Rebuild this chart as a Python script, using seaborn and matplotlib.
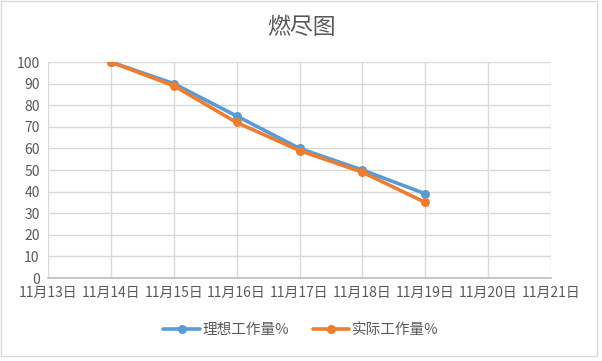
import pandas as pd
import seaborn as sns
import matplotlib.pyplot as plt
from matplotlib.patches import Rectangle

# Data
dates = ['11月13日', '11月14日', '11月15日', '11月16日', '11月17日',
         '11月18日', '11月19日', '11月20日', '11月21日']
ideal_dates = ['11月14日', '11月15日', '11月16日', '11月17日', '11月18日', '11月19日']
ideal = [100, 90, 75, 60, 50, 39]
actual = [100, 89, 72, 59, 49, 35]

sns.set_theme(style='white')
plt.rcParams['font.family'] = ['Noto Sans CJK SC', 'DejaVu Sans']

pos = {d: i for i, d in enumerate(dates)}
df = pd.concat([
    pd.DataFrame({'date': ideal_dates, 'value': ideal, 'series': '理想工作量%'}),
    pd.DataFrame({'date': ideal_dates, 'value': actual, 'series': '实际工作量%'}),
])
df['x'] = df['date'].map(pos)

fig = plt.figure(figsize=(6.02, 3.61), dpi=100)
ax = fig.add_axes([48 / 602, 1 - 278 / 361, (551 - 48) / 602, (278 - 62) / 361])

sns.lineplot(data=df, x='x', y='value', hue='series',
             palette=['#5b9bd5', '#ed7d31'], marker='o', markersize=6.5,
             markeredgewidth=0, linewidth=2.6, ax=ax)

ax.set_xlim(0, len(dates) - 1)
ax.set_ylim(0, 100)
ax.set_xticks(range(len(dates)))
ax.set_xticklabels(dates)
ax.set_yticks(range(0, 101, 10))
ax.grid(True, color='#d9d9d9', linewidth=1)
ax.set_axisbelow(True)
for s in ['top', 'right', 'left']:
    ax.spines[s].set_visible(False)
ax.spines['bottom'].set_color('#bfbfbf')
ax.tick_params(axis='both', length=0, labelsize=10, colors='#595959', pad=6)
ax.set_xlabel('')
ax.set_ylabel('')

fig.suptitle('燃尽图', y=1 - 28 / 361, va='center', fontsize=16.5, color='#595959')

ax.legend(loc='center', bbox_to_anchor=(301 / 602, (361 - 330) / 361), bbox_transform=fig.transFigure,
          ncol=2, frameon=False, fontsize=10.5, labelcolor='#595959',
          handlelength=2.5, columnspacing=1.6, handletextpad=0.2)

fig.patches.append(Rectangle((0.001, 0.015), 0.99, 0.983, transform=fig.transFigure,
                             fill=False, edgecolor='#d9d9d9', linewidth=1))

fig.savefig('out.png', dpi=100)
